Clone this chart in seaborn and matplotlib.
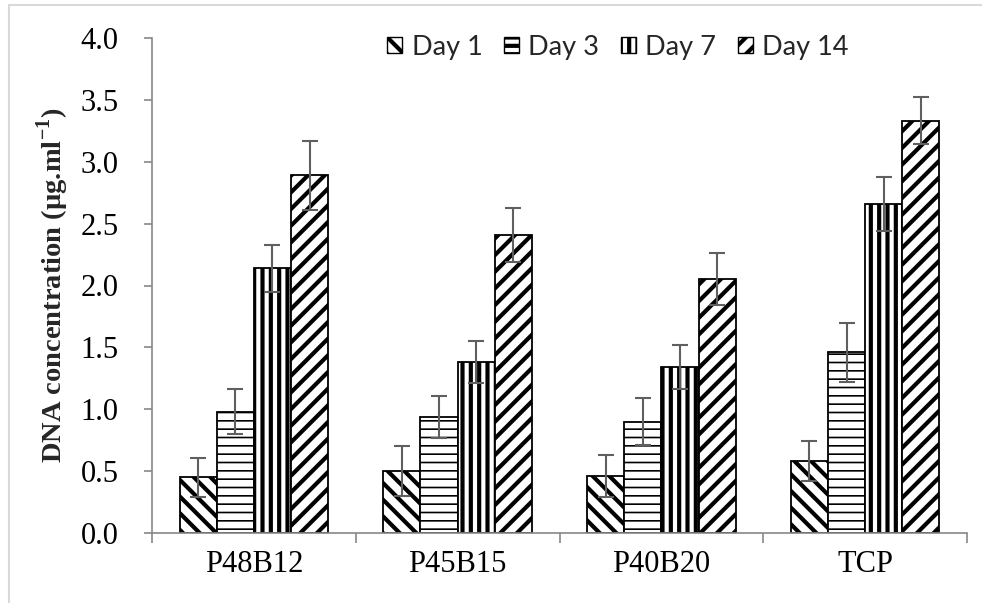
import numpy as np
import pandas as pd
import matplotlib
matplotlib.use("Agg")
import matplotlib.pyplot as plt
from matplotlib.patches import Patch
from matplotlib.lines import Line2D
from matplotlib.container import BarContainer
from matplotlib.ticker import FixedLocator, NullFormatter
import seaborn as sns

# Scaffold groups and culture days
groups = ["P48B12", "P45B15", "P40B20", "TCP"]
days = ["Day 1", "Day 3", "Day 7", "Day 14"]

# Mean DNA concentration (µg/ml) per day
day1 = [0.45, 0.50, 0.46, 0.58]
day3 = [0.98, 0.94, 0.90, 1.46]
day7 = [2.14, 1.38, 1.34, 2.66]
day14 = [2.89, 2.41, 2.05, 3.33]

# Standard deviations
sd1 = [0.16, 0.20, 0.17, 0.16]
sd3 = [0.18, 0.17, 0.19, 0.24]
sd7 = [0.19, 0.17, 0.18, 0.22]
sd14 = [0.28, 0.22, 0.21, 0.19]

y_ticks = [0.0, 0.5, 1.0, 1.5, 2.0, 2.5, 3.0, 3.5, 4.0]

means = [day1, day3, day7, day14]
sds = [sd1, sd3, sd7, sd14]
hatches = ["\\\\", "--", "||", "//"]
hatch_lw = [3.0, 1.2, 3.0, 3.0]

df = pd.DataFrame({
    "group": np.repeat([groups], 4, axis=0).ravel(),
    "day": np.repeat(days, len(groups)),
    "value": np.concatenate(means),
    "sd": np.concatenate(sds),
})

sns.set_theme(style="white")
plt.rcParams["font.family"] = ["Liberation Serif", "DejaVu Serif"]
plt.rcParams["mathtext.fontset"] = "custom"
plt.rcParams["mathtext.rm"] = "Liberation Serif:bold"
plt.rcParams["mathtext.bf"] = "Liberation Serif:bold"
plt.rcParams["hatch.color"] = "black"
plt.rcParams["hatch.linewidth"] = 3.0

fig = plt.figure(figsize=(9.82, 6.03), dpi=100)
ax = fig.add_axes([152 / 982, 70 / 603, 815 / 982, 495 / 603])

sns.barplot(data=df, x="group", y="value", hue="day", order=groups,
            hue_order=days, errorbar=None, width=0.73, ax=ax,
            palette=["white"] * 4, edgecolor="black", linewidth=1.3,
            legend=False)

# Patterns and error bars per day series
bar_sets = [c for c in ax.containers if isinstance(c, BarContainer)]
for i, cont in enumerate(bar_sets):
    for bar in cont:
        bar.set_hatch(hatches[i])
        bar.set_edgecolor("black")
        if hasattr(bar, "set_hatch_linewidth"):
            bar.set_hatch_linewidth(hatch_lw[i])
    xs = [b.get_x() + b.get_width() / 2 for b in cont]
    ax.errorbar(xs, means[i], yerr=sds[i], fmt="none", ecolor="#5f5f5f",
                elinewidth=1.5, capsize=5.5, capthick=1.5, zorder=5)

ax.set_xlim(-0.5, 3.5)
ax.set_ylim(0, 4.0)
ax.set_yticks(y_ticks)
ax.set_yticklabels([f"{v:.1f}" for v in y_ticks], fontsize=22)
ax.set_xticks(range(len(groups)))
ax.set_xticklabels(groups, fontsize=22)
ax.xaxis.set_minor_locator(FixedLocator([-0.5, 0.5, 1.5, 2.5, 3.5]))
ax.xaxis.set_minor_formatter(NullFormatter())
ax.tick_params(axis="x", which="major", length=0, pad=12, colors="black")
ax.tick_params(axis="x", which="minor", length=7, width=1.2,
               color="#888888", direction="out", bottom=True)
ax.tick_params(axis="y", length=6, width=1.2, color="#888888",
               direction="out", left=True, pad=18, labelcolor="black")

for s in ["top", "right"]:
    ax.spines[s].set_visible(False)
for s in ["left", "bottom"]:
    ax.spines[s].set_color("#888888")
    ax.spines[s].set_linewidth(1.2)

ax.set_xlabel("")
ax.set_ylabel(r"DNA concentration (µg.ml$^{\mathbf{-1}}$)", fontsize=20.5,
              fontweight="bold", labelpad=7)

handles = []
for h, lw in zip(hatches, hatch_lw):
    p = Patch(facecolor="white", edgecolor="black", hatch=h, linewidth=1.0)
    if hasattr(p, "set_hatch_linewidth"):
        p.set_hatch_linewidth(lw)
    handles.append(p)
leg = fig.legend(handles, days, loc="center", ncol=4,
                 bbox_to_anchor=(618 / 982, 1 - 47 / 603), frameon=False,
                 prop={"family": "Lato", "size": 19.5},
                 handlelength=0.55, handleheight=0.55, handletextpad=0.35,
                 columnspacing=0.8)

# Light chart-area border on the left and top
fig.add_artist(Line2D([8.5 / 982, 8.5 / 982], [0, 1 - 5 / 603],
                      transform=fig.transFigure, color="#d9d9d9", lw=1.5))
fig.add_artist(Line2D([8.5 / 982, 1], [1 - 5 / 603, 1 - 5 / 603],
                      transform=fig.transFigure, color="#d9d9d9", lw=1.5))

fig.savefig("out.png", dpi=100)
